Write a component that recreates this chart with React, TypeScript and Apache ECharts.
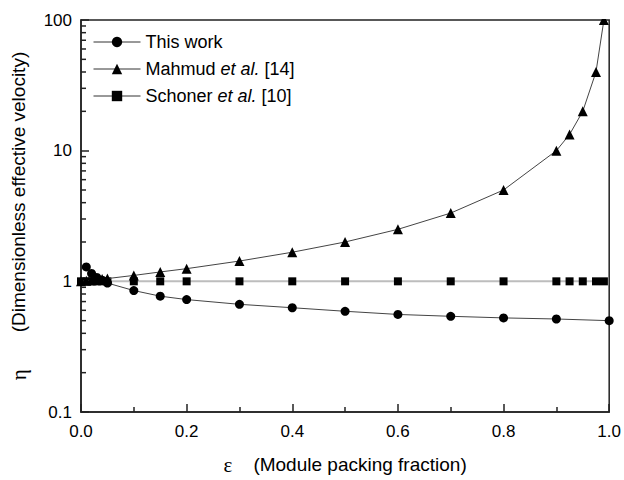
import React, { useEffect, useRef } from "react";
import * as echarts from "echarts";

const thisWorkX = [0.01, 0.02, 0.03, 0.04, 0.05, 0.1, 0.15, 0.2, 0.3, 0.4, 0.5, 0.6, 0.7, 0.8, 0.9, 1.0];
const thisWorkY = [1.29, 1.15, 1.07, 1.02, 0.97, 0.85, 0.77, 0.725, 0.667, 0.628, 0.59, 0.558, 0.54, 0.525, 0.515, 0.5];

const mahmudX = [0, 0.01, 0.02, 0.03, 0.04, 0.05, 0.1, 0.15, 0.2, 0.3, 0.4, 0.5, 0.6, 0.7, 0.8, 0.9, 0.925, 0.95, 0.975, 0.99];
const mahmudY = [1, 1.01, 1.02, 1.03, 1.04, 1.05, 1.11, 1.18, 1.25, 1.43, 1.67, 2, 2.5, 3.33, 5, 10, 13.3, 20, 40, 100];

const schonerX = [0, 0.01, 0.02, 0.03, 0.04, 0.05, 0.1, 0.15, 0.2, 0.3, 0.4, 0.5, 0.6, 0.7, 0.8, 0.9, 0.925, 0.95, 0.975, 0.99];
const schonerY = [1, 1, 1, 1, 1, 1, 1, 1, 1, 1, 1, 1, 1, 1, 1, 1, 1, 1, 1, 1];

const yMinorTicks = [0.2, 0.3, 0.4, 0.5, 0.6, 0.7, 0.8, 0.9, 2, 3, 4, 5, 6, 7, 8, 9, 20, 30, 40, 50, 60, 70, 80, 90];

const seriesNames = ["This work", "Mahmud et al. [14]", "Schoner et al. [10]"];

const SANS = "'Liberation Sans', Arial, sans-serif";
const SERIF = "'Liberation Serif', 'Times New Roman', serif";

const zip = (xs: number[], ys: number[]) => xs.map((x, i) => [x, ys[i]]);

export default function App() {
  const ref = useRef<HTMLDivElement>(null);
  useEffect(() => {
    document.body.style.margin = "0";
    if (!ref.current) return;
    const chart = echarts.init(ref.current, undefined, { renderer: "svg" });
    const axisColor = "#222";
    chart.setOption({
      animation: false,
      backgroundColor: "#fff",
      textStyle: { fontFamily: SANS, color: "#000" },
      grid: {
        left: 80,
        right: 13,
        top: 20,
        bottom: 66,
        show: true,
        borderColor: axisColor,
        borderWidth: 1.5,
        backgroundColor: "transparent",
      },
      legend: {
        left: 93,
        top: 33,
        padding: 0,
        orient: "vertical",
        itemWidth: 47,
        itemHeight: 13,
        itemGap: 9,
        data: seriesNames.map((n) => ({ name: n, lineStyle: { color: "#333", width: 1 } })),
        formatter: (name: string) => {
          if (name.startsWith("Mahmud")) return "Mahmud {i|et al.} [14]";
          if (name.startsWith("Schoner")) return "Schoner {i|et al.} [10]";
          return name;
        },
        textStyle: {
          fontFamily: SANS,
          fontSize: 18,
          lineHeight: 18,
          color: "#000",
          rich: { i: { fontStyle: "italic", fontFamily: SANS, fontSize: 18, lineHeight: 18, color: "#000" } },
        },
      },
      xAxis: {
        type: "value",
        min: 0,
        max: 1,
        interval: 0.2,
        name: "{g|ε}    (Module packing fraction)",
        nameLocation: "middle",
        nameGap: 42,
        nameTextStyle: {
          fontFamily: SANS,
          fontSize: 19,
          color: "#000",
          rich: { g: { fontFamily: SERIF, fontSize: 21, color: "#000" } },
        },
        axisLine: { show: true, lineStyle: { color: axisColor, width: 1.5 } },
        axisTick: { show: true, inside: true, length: 8, lineStyle: { color: axisColor, width: 1.5 } },
        minorTick: { show: true, splitNumber: 2, length: 5, lineStyle: { color: axisColor, width: 1.5 } },
        splitLine: { show: false },
        axisLabel: {
          fontSize: 17,
          color: "#000",
          margin: 11,
          fontFamily: SANS,
          formatter: (v: number) => v.toFixed(1),
        },
      },
      yAxis: {
        type: "log",
        logBase: 10,
        min: 0.1,
        max: 100,
        name: "{g|η}       (Dimensionless effective velocity)",
        nameLocation: "middle",
        nameGap: 52,
        nameTextStyle: {
          fontFamily: SANS,
          fontSize: 19,
          color: "#000",
          rich: { g: { fontFamily: SERIF, fontSize: 21, color: "#000" } },
        },
        axisLine: { show: true, lineStyle: { color: axisColor, width: 1.5 } },
        axisTick: { show: true, inside: true, length: 8, lineStyle: { color: axisColor, width: 1.5 } },
        splitLine: { show: false },
        axisLabel: {
          fontSize: 17,
          color: "#000",
          margin: 9,
          fontFamily: SANS,
          formatter: (v: number) => String(v),
        },
      },
      graphic: [
        {
          type: "rect",
          z: 100,
          shape: { x: 590, y: 0, width: 34, height: 19 },
          style: { fill: "#fff" },
          silent: true,
        },
      ],
      series: [
        {
          type: "custom",
          name: "minorTicksY",
          silent: true,
          z: 5,
          data: yMinorTicks.map((v) => [0, v]),
          renderItem: (params: any, api: any) => {
            const p = api.coord([0, api.value(1)]);
            return {
              type: "line",
              shape: { x1: p[0], y1: p[1], x2: p[0] + 5, y2: p[1] },
              style: { stroke: axisColor, lineWidth: 1.5 },
            };
          },
        },
        {
          name: seriesNames[2],
          type: "line",
          data: zip(schonerX, schonerY),
          symbol: "rect",
          symbolSize: 8,
          itemStyle: { color: "#000" },
          lineStyle: { color: "#bdbdbd", width: 2 },
          z: 2,
        },
        {
          name: seriesNames[1],
          type: "line",
          data: zip(mahmudX, mahmudY),
          symbol: "triangle",
          symbolSize: 10,
          itemStyle: { color: "#000" },
          lineStyle: { color: "#444", width: 1 },
          z: 3,
        },
        {
          name: seriesNames[0],
          type: "line",
          data: zip(thisWorkX, thisWorkY),
          symbol: "circle",
          symbolSize: 9,
          itemStyle: { color: "#000" },
          lineStyle: { color: "#444", width: 1 },
          z: 4,
        },
      ],
    });
    return () => chart.dispose();
  }, []);
  return <div ref={ref} style={{ width: 624, height: 480 }} />;
}
